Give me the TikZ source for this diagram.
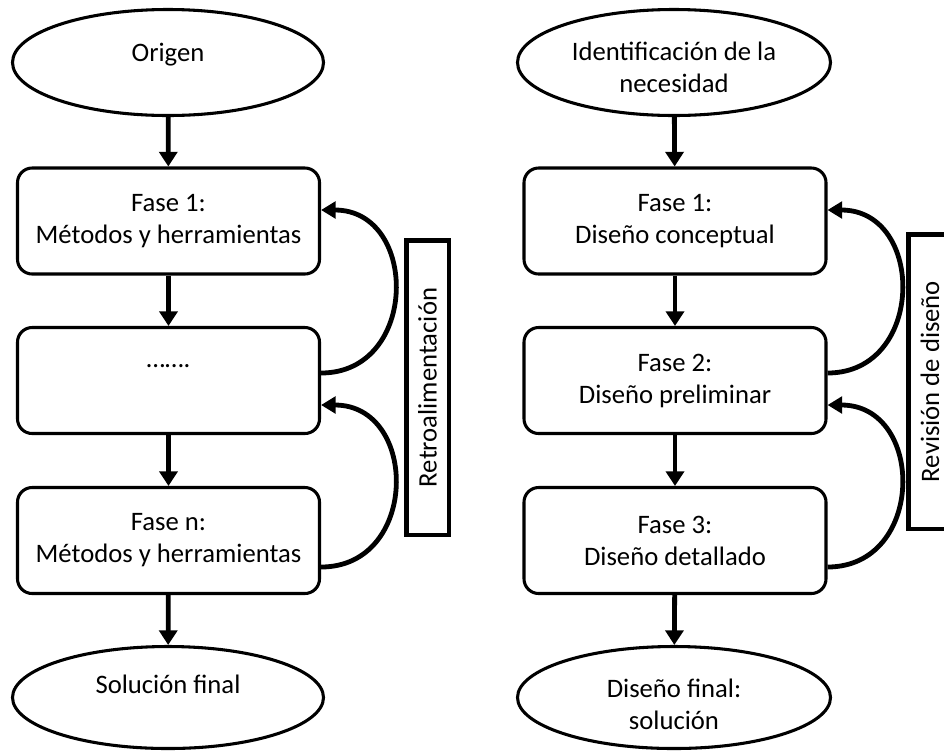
\documentclass[tikz,border=0pt]{standalone}
\usepackage{fontspec}
\setmainfont{Carlito}
\usetikzlibrary{shapes.geometric,arrows.meta,calc}

\begin{document}
\begin{tikzpicture}[x=0.75pt,y=-0.75pt,
  font=\fontsize{20}{24}\selectfont,
  term/.style={ellipse,draw,line width=2.3pt,inner sep=0pt,minimum width=233.25pt},
  phase/.style={draw,line width=2.3pt,rounded corners=11pt,inner sep=0pt,
    minimum width=226.5pt,minimum height=79.5pt,align=center},
  txt/.style={inner sep=0pt,align=center},
  flow/.style={line width=3.6pt,-{Triangle[length=11pt,width=13.5pt]}},
  loop/.style={line width=3.6pt,-{Triangle[length=11pt,width=12.5pt]}},
  tag/.style={draw,line width=3.4pt,rotate=90,inner sep=0pt,
    minimum width=220.9pt,minimum height=31.9pt}
]
\useasboundingbox (0,0) rectangle (944,751);
\clip (0,0) rectangle (944,751);

% ---- left column: generic process ----
\node[term,minimum height=79.5pt] (o1) at (168,62.5) {};
\node[txt,anchor=base] (o1t) at (168,61) {Origen};
\node[phase] (b1) at (168.5,221) {Fase 1:\\Métodos y herramientas};
\node[phase] (b2) at (168.5,380.5) {};
\node[txt,anchor=base] (b2t) at (168.5,367) {…….};
\node[phase] (b3) at (168.5,540.5) {Fase n:\\Métodos y herramientas};
\node[term,minimum height=76.5pt] (o2) at (168,697.5) {};
\node[txt,anchor=base] (o2t) at (168,693) {Solución final};

\draw[flow] (o1) -- (b1);
\draw[flow] (b1) -- (b2);
\draw[flow] (b2) -- (b3);
\draw[flow] (b3) -- (o2);

\draw[loop] ($(b2.east)+(0,-7.5)$) .. controls +(98,0) and +(98,0) .. ($(b1.east)+(0,-11)$);
\draw[loop] ($(b3.east)+(0,26.5)$) .. controls +(98,0) and +(98,0) .. ($(b2.east)+(0,24.5)$);

\node[tag] (lt) at (427.5,387.5) {Retroalimentación};

% ---- right column: design process ----
\node[term,minimum width=234.75pt,minimum height=79.5pt] (r0) at (674,62.5) {};
\node[txt] (r0t) at (674,67) {Identificación de la\\necesidad};
\node[phase] (r1) at (675,221) {Fase 1:\\Diseño conceptual};
\node[phase] (r2) at (675,380.5) {Fase 2:\\Diseño preliminar};
\node[phase] (r3) at (675,540.5) {Fase 3:\\Diseño detallado};
\node[term,minimum width=234.75pt,minimum height=76.5pt] (r4) at (674,697.5) {};
\node[txt] (r4t) at (674,704) {Diseño final:\\solución};

\draw[flow] (r0) -- (r1);
\draw[flow] (r1) -- (r2);
\draw[flow] (r2) -- (r3);
\draw[flow] (r3) -- (r4);

\draw[loop] ($(r2.east)+(0,-7.5)$) .. controls +(98,0) and +(98,0) .. ($(r1.east)+(0,-11)$);
\draw[loop] ($(r3.east)+(0,26.5)$) .. controls +(98,0) and +(98,0) .. ($(r2.east)+(0,24.5)$);

\node[tag] (rt) at (930,381.5) {Revisión de diseño};
\end{tikzpicture}
\end{document}
